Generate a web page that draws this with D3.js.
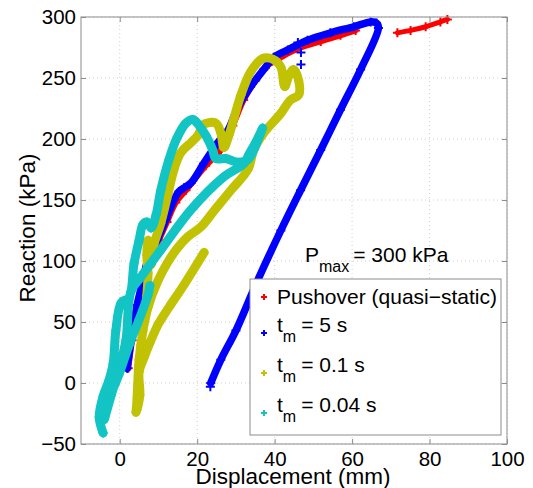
<!DOCTYPE html>
<html>
<head>
<meta charset="utf-8">
<script src="https://cdn.jsdelivr.net/npm/d3@7"></script>
<style>
  body { margin: 0; background: #fff; }
  text { font-family: "Liberation Sans", Arial, Helvetica, sans-serif; }
</style>
</head>
<body>
<div id="chart"></div>
<script>
// values: [displacement mm, reaction kPa]
const pushoverMain = [[2.2,12],[3.2,35],[4.7,64],[6.3,84],[8.1,104],[10.1,117],[12.2,132],[14.5,148],
  [17.1,158],[22.2,178],[26.1,191],[29.2,211],[32.0,232],[35.1,248],[38.5,261],[41.6,267],
  [46.7,275],[51.9,280],[57.0,285],[60.9,289]];
const pushoverTail = [[71.7,287],[75.1,289],[79.0,292],[82.8,296],[84.6,298]];

const fiveSec = [[1.9,12],[2.9,35],[4.5,64],[6.0,84],[7.6,105],[9.6,117],[11.9,134],[14.0,150],
  [15.3,157],[16.6,160],[18.4,164],[21.7,180],[25.3,197],[27.9,207],[30.5,226],[33.8,243],
  [37.2,257],[39.8,267],[43.4,273],[48.5,281],[54.4,287],[60.4,292],[64.8,296],[66.3,295],
  [66.8,291],[62.2,257],[57.0,224],[51.9,191],[46.7,158],[41.6,125],[35.6,84],[30.0,43],
  [26.1,19],[23.5,0]];
const fiveSecStray = [[46.0,279],[46.8,271],[46.8,261],[23.4,-3]];

const tenthSec = [[4.2,-24],[4.7,-6],[5.0,15],[5.5,31],[6.3,52],[7.0,72],[7.3,90],[7.0,105],
  [7.3,117],[8.1,97],[8.8,113],[10.6,131],[12.4,154],[14.0,175],[15.8,189],[18.4,197],
  [20.2,203],[21.7,212],[24.8,213],[26.1,205],[26.9,193],[28.2,203],[29.5,217],[31.3,236],
  [33.8,255],[36.9,266],[39.8,265],[41.6,259],[42.6,243],[43.7,252],[44.9,257],[46.2,248],
  [46.2,236],[44.1,232],[41.6,221],[37.2,205],[34.6,191],[33.1,175],[28.7,158],[24.8,143],
  [21.0,128],[17.6,120],[15.0,111],[12.4,99],[9.9,84],[7.3,62],[6.0,43],[5.0,19],[4.6,-4],
  [4.4,-22],[5.2,-10],[5.0,9],[6.3,21],[7.8,33],[10.1,49],[12.7,62],[16.3,79],[21.8,107]];

const hundredthSec = [[-4.3,-41],[-5.3,-28],[-4.3,-11],[-2.8,2],[-1.7,16],[-1.0,43],[0.4,66],
  [2.4,70],[3.7,98],[5.0,117],[6.0,130],[7.0,132],[8.1,127],[9.4,138],[10.6,158],[12.7,183],
  [14.8,201],[17.1,213],[18.9,216],[20.5,211],[22.2,203],[24.0,191],[24.8,184],[27.4,184],
  [30.5,181],[33.1,183],[34.6,191],[35.9,201],[36.9,209],[35.4,199],[33.3,187],[32.1,180],
  [26.9,169],[18.4,142],[10.6,109],[5.5,87],[2.9,75],[1.6,35],[-0.2,11],[-2.2,-10],
  [-4.0,-30],[-2.8,-14],[-0.2,7],[2.4,31],[5.0,52],[7.3,72],[7.8,80]];

const xTicks = [0, 20, 40, 60, 80, 100];
const yTicks = [-50, 0, 50, 100, 150, 200, 250, 300];
const legendNames = ["Pushover (quasi\u2212static)", "= 5 s", "= 0.1 s", "= 0.04 s"];
const colors = ["#ff0000", "#0000ff", "#c2c205", "#12c4c4"];

const W = 533, H = 488;
const plotLeft = 81, plotRight = 507, plotTop = 17, plotBottom = 444;

const svg = d3.select("#chart").append("svg")
  .attr("width", W)
  .attr("height", H);

const x = d3.scaleLinear().domain([-10, 100]).range([plotLeft, plotRight]);
const y = d3.scaleLinear().domain([-50, 300]).range([plotBottom, plotTop]);

// grid
svg.append("g").selectAll("line")
  .data(xTicks)
  .enter().append("line")
  .attr("x1", d => x(d)).attr("x2", d => x(d))
  .attr("y1", plotTop).attr("y2", plotBottom)
  .attr("stroke", "#cfcfcf").attr("stroke-dasharray", "1,3");
svg.append("g").selectAll("line")
  .data(yTicks)
  .enter().append("line")
  .attr("x1", plotLeft).attr("x2", plotRight)
  .attr("y1", d => y(d)).attr("y2", d => y(d))
  .attr("stroke", "#cfcfcf").attr("stroke-dasharray", "1,3");

// traces
const lineFun = d3.line()
  .x(d => x(d[0]))
  .y(d => y(d[1]))
  .curve(d3.curveCatmullRom.alpha(0.5));

const plus = "M-4.5,0H4.5M0,-4.5V4.5";

const drawTrace = (data, color, width) => {
  svg.append("path")
    .attr("d", lineFun(data))
    .attr("fill", "none")
    .attr("stroke", color)
    .attr("stroke-width", width)
    .attr("stroke-linejoin", "round")
    .attr("stroke-linecap", "round");
  svg.append("g").selectAll("path")
    .data(data)
    .enter().append("path")
    .attr("d", plus)
    .attr("transform", d => `translate(${x(d[0])},${y(d[1])})`)
    .attr("stroke", color)
    .attr("stroke-width", 2);
};

drawTrace(pushoverMain, colors[0], 6);
drawTrace(pushoverTail, colors[0], 5);
drawTrace(fiveSec, colors[1], 7.5);
svg.append("g").selectAll("path")
  .data(fiveSecStray)
  .enter().append("path")
  .attr("d", plus)
  .attr("transform", d => `translate(${x(d[0])},${y(d[1])})`)
  .attr("stroke", colors[1])
  .attr("stroke-width", 2);
drawTrace(tenthSec, colors[2], 9);
drawTrace(hundredthSec, colors[3], 9);

// axes (ticks inside, matlab style)
const axisStyle = (g) => {
  g.select(".domain").remove();
  g.selectAll(".tick line").attr("stroke", "#8c8c8c");
  g.selectAll("text")
    .attr("font-size", "20.5px")
    .attr("fill", "#000");
};

svg.append("g")
  .attr("transform", `translate(0,${plotBottom})`)
  .call(d3.axisBottom(x).tickValues(xTicks).tickSizeInner(-5).tickSizeOuter(0).tickPadding(7))
  .call(axisStyle);
svg.append("g")
  .attr("transform", `translate(0,${plotTop})`)
  .call(d3.axisTop(x).tickValues(xTicks).tickSizeInner(-5).tickSizeOuter(0).tickFormat(""))
  .call(axisStyle);
svg.append("g")
  .attr("transform", `translate(${plotLeft},0)`)
  .call(d3.axisLeft(y).tickValues(yTicks).tickSizeInner(-5).tickSizeOuter(0).tickPadding(5))
  .call(axisStyle);
svg.append("g")
  .attr("transform", `translate(${plotRight},0)`)
  .call(d3.axisRight(y).tickValues(yTicks).tickSizeInner(-5).tickSizeOuter(0).tickFormat(""))
  .call(axisStyle);

svg.append("rect")
  .attr("x", plotLeft).attr("y", plotTop)
  .attr("width", plotRight - plotLeft).attr("height", plotBottom - plotTop)
  .attr("fill", "none")
  .attr("stroke", "#8c8c8c");

// axis labels
svg.append("text")
  .attr("x", 293).attr("y", 484)
  .attr("text-anchor", "middle")
  .attr("font-size", "22.5px")
  .text("Displacement (mm)");
svg.append("text")
  .attr("transform", "translate(35,228) rotate(-90)")
  .attr("text-anchor", "middle")
  .attr("font-size", "22.5px")
  .text("Reaction (kPa)");

// annotation
const note = svg.append("text")
  .attr("x", 305).attr("y", 262)
  .attr("font-size", "21px");
note.append("tspan").text("P");
note.append("tspan").attr("font-size", "16px").attr("dy", 10).text("max");
note.append("tspan").attr("dy", -10).attr("dx", 4).text("= 300 kPa");

// legend
const legend = svg.append("g");
legend.append("rect")
  .attr("x", 250).attr("y", 279)
  .attr("width", 251).attr("height", 156)
  .attr("fill", "#fff")
  .attr("stroke", "#8c8c8c");

const rowY = [304, 332, 372, 412];
const markY = [297, 333, 373, 413];

legend.selectAll(".mk")
  .data(legendNames)
  .enter().append("path")
  .attr("class", "mk")
  .attr("d", "M-3,0H3M0,-3V3")
  .attr("transform", (d, i) => `translate(264,${markY[i]})`)
  .attr("stroke", (d, i) => colors[i])
  .attr("stroke-width", 2);

legend.selectAll(".lbl")
  .data(legendNames)
  .enter().append("text")
  .attr("class", "lbl")
  .attr("x", 277)
  .attr("y", (d, i) => rowY[i])
  .attr("font-size", "21px")
  .each(function (d, i) {
    const t = d3.select(this);
    if (i === 0) {
      t.text(d);
    } else {
      t.append("tspan").text("t");
      t.append("tspan").attr("font-size", "16px").attr("dy", 10).text("m");
      t.append("tspan").attr("dy", -10).attr("dx", 5).text(d);
    }
  });
</script>
</body>
</html>
